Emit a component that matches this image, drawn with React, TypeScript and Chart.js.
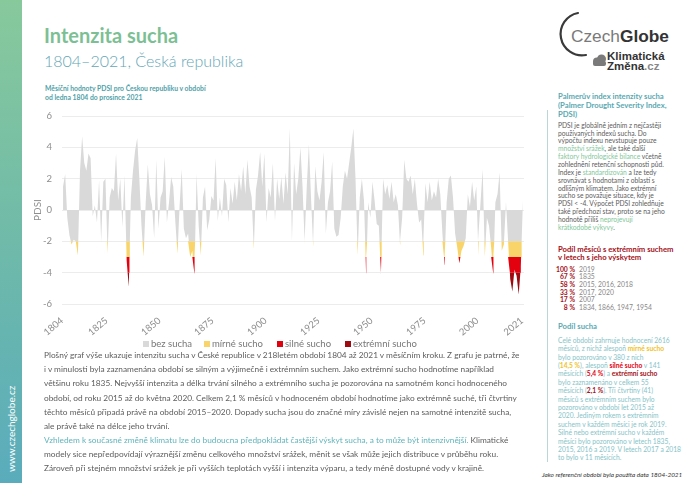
import React, { useEffect, useRef } from "react";
import { Chart, registerables } from "chart.js";

Chart.register(...registerables);

// Annual PDSI values (Czech Republic)
const pdsi1804to1849 = [
  1.5, 2.3, -0.5, -1.6, -2.2, -1.9, -2.0, -2.9, 2.5, 4.7,
  3.0, 2.5, 3.6, 3.3, -0.4, 0.3, -0.8, 1.9, -2.1, 1.8,
  2.0, -2.8, 0.8, 1.4, 1.2, 3.6, 0.6, 2.0, -1.1, 2.2,
  -3.2, -4.9, 0.8, 2.5, 3.8, 4.6, 2.0, -1.0, -3.0, 0.5,
  2.9, 1.0, 0.3, -1.8, 3.2, -1.2,
];
const pdsi1850to1899 = [
  0.8, 1.2, 3.4, -0.8, 0.5, 2.1, 1.5, -0.8, -2.8, 0.3,
  2.6, -1.2, -1.8, -1.5, -3.0, -2.6, -4.1, 2.3, -1.0, -2.9,
  0.8, 1.5, -1.3, -0.6, 0.9, 0.6, 3.3, -0.7, 0.8, -0.4,
  2.0, 1.6, -0.8, 1.4, 0.4, 1.8, 0.6, 2.3, 1.2, 2.8,
  1.0, 3.2, 1.5, 0.8, -2.5, 1.3, 2.2, 3.7, 1.5, 3.6,
];
const pdsi1900to1949 = [
  -0.8, 1.4, 0.8, 3.0, -0.7, 2.0, 0.7, 2.1, 0.4, 2.4,
  1.0, 5.2, -2.0, 3.0, 1.0, 2.0, 4.0, 1.5, -2.1, 1.5,
  4.2, 0.8, -2.3, 2.8, 1.2, 0.6, 1.8, 3.7, -1.5, 0.5,
  1.2, 3.1, -1.2, -1.7, -1.6, -0.5, 1.5, 2.5, 2.0, 3.0,
  4.0, 5.2, 2.0, -2.9, 0.8, 2.0, 0.6, -4.1, 0.5, -0.5,
];
const pdsi1950to1999 = [
  1.8, 0.6, -0.9, -1.0, -4.1, 2.0, 1.0, 1.6, 0.7, 1.8,
  0.5, 1.0, 0.3, -2.2, -0.5, 3.2, 2.0, 1.8, 2.2, 1.0,
  2.0, 0.4, -0.8, -0.6, -2.9, 1.7, 0.5, 1.8, 0.6, 1.2,
  0.8, 2.0, 1.0, -1.5, -3.5, 0.5, 2.0, 2.2, 0.8, -1.5,
  -2.4, -3.4, -2.6, -2.3, -1.8, 1.0, 0.2, 1.8, 0.6, 1.5,
];
const pdsi2000to2021 = [
  -2.9, 0.5, 2.6, -3.0, -0.5, -1.0, -2.4, -4.1, 0.5, 1.0,
  2.4, -2.6, -2.2, 0.5, -2.0, -4.4, -5.2, -3.8, -4.2, -5.4,
  -3.6, 0.6,
];

const startYear = 1804;
const endYear = 2022;
const xTickYears = [1804, 1825, 1850, 1875, 1900, 1925, 1950, 1975, 2000, 2021];
const legendLabels = ["bez sucha", "mírné sucho", "silné sucho", "extrémní sucho"];
const classColors = ["#d9d9d9", "#f8d46a", "#e3000f", "#9e0a10"];
// class bands: [upper bound, lower bound, fill baseline]
const classBands: [number, number, number][] = [
  [Infinity, -2, 0],
  [-2, -3, -2],
  [-3, -4, -3],
  [-4, -Infinity, -4],
];

const FONT = "Lato, 'Noto Sans', sans-serif";

// Outline of one drought class: the PDSI line clamped into the class band,
// with the exact threshold crossings of each line segment kept as vertices.
function classOutline(xs: number[], vs: number[], hi: number, lo: number) {
  const clamp = (v: number) => Math.min(hi, Math.max(lo, v));
  const out: { x: number; y: number }[] = [];
  for (let i = 0; i < vs.length; i++) {
    out.push({ x: xs[i], y: clamp(vs[i]) });
    if (i === vs.length - 1) break;
    const v0 = vs[i];
    const v1 = vs[i + 1];
    const cuts = [hi, lo]
      .filter((t) => isFinite(t) && (v0 - t) * (v1 - t) < 0)
      .map((t) => ({ x: xs[i] + ((t - v0) / (v1 - v0)) * (xs[i + 1] - xs[i]), y: t }))
      .sort((a, b) => a.x - b.x);
    out.push(...cuts);
  }
  return out;
}

function PdsiChart() {
  const ref = useRef<HTMLCanvasElement | null>(null);
  useEffect(() => {
    const values = [
      ...pdsi1804to1849,
      ...pdsi1850to1899,
      ...pdsi1900to1949,
      ...pdsi1950to1999,
      ...pdsi2000to2021,
    ];
    const xs = values.map((_, i) => startYear + i + 0.5);
    const datasets = classBands.map(([hi, lo, baseVal], k) => ({
      label: legendLabels[k],
      data: classOutline(xs, values, hi, lo),
      backgroundColor: classColors[k],
      borderColor: "rgba(0,0,0,0)",
      borderWidth: 0,
      pointRadius: 0,
      tension: 0,
      fill: k === 0 ? "origin" : { value: baseVal },
    }));
    const chart = new Chart(ref.current as HTMLCanvasElement, {
      type: "line",
      data: { datasets } as any,
      options: {
        animation: false,
        responsive: false,
        maintainAspectRatio: false,
        layout: { padding: { left: 0, right: 16, top: 16, bottom: 0 } },
        plugins: { legend: { display: false }, tooltip: { enabled: false } },
        scales: {
          x: {
            type: "linear",
            min: startYear,
            max: endYear,
            afterBuildTicks: (s: any) => {
              s.ticks = xTickYears.map((v) => ({ value: v }));
            },
            afterFit: (s: any) => {
              s.height = 46;
            },
            grid: { display: false },
            border: { display: false },
            ticks: {
              autoSkip: false,
              minRotation: 40,
              maxRotation: 40,
              padding: 3,
              color: "#8e8e8e",
              font: { family: FONT, size: 9.5 },
              callback: (v: any) => String(v),
            },
          },
          y: {
            min: -6,
            max: 6,
            afterFit: (s: any) => {
              s.width = 37;
            },
            grid: { color: "#ececec", drawTicks: false, lineWidth: 1 },
            border: { display: false },
            ticks: {
              stepSize: 2,
              padding: 10,
              color: "#8e8e8e",
              font: { family: FONT, size: 9.5 },
            },
            title: {
              display: true,
              text: "PDSI",
              color: "#8e8e8e",
              font: { family: FONT, size: 10 },
              padding: { top: 7, bottom: 0 },
            },
          },
        },
      } as any,
    });
    return () => chart.destroy();
  }, []);
  return (
    <canvas
      ref={ref}
      width={515}
      height={250}
      style={{ position: "absolute", left: 25, top: 100, width: 515, height: 250 }}
    />
  );
}

const abs = (left: number, top: number, extra: React.CSSProperties = {}): React.CSSProperties => ({
  position: "absolute",
  left,
  top,
  whiteSpace: "nowrap",
  ...extra,
});

const green = "#7fc79a";
const teal = "#5aa9b2";
const lightTeal = "#86c3c8";
const yellowTxt = "#f0c22a";
const redTxt = "#e3000f";
const darkRedTxt = "#a3111a";

export default function App() {
  useEffect(() => {
    document.body.style.margin = "0";
  }, []);
  const hl = (t: string) => <span style={{ color: green }}>{t}</span>;
  const b = (t: string, c: string) => <span style={{ color: c, fontWeight: 700 }}>{t}</span>;
  return (
    <div
      style={{
        position: "fixed",
        left: 0,
        top: 0,
        width: 682,
        height: 483,
        background: "#ffffff",
        overflow: "hidden",
        fontFamily: FONT,
      }}
    >
      {/* left strip */}
      <div
        style={{
          position: "absolute",
          left: 0,
          top: 0,
          width: 22,
          height: 483,
          background: "linear-gradient(180deg, #88c99c 0%, #6fbaa9 50%, #5aacbc 100%)",
        }}
      />
      <div
        style={abs(-28, 427, {
          width: 78,
          transform: "rotate(-90deg)",
          color: "#ffffff",
          fontSize: 10,
          lineHeight: "12px",
          textAlign: "center",
        })}
      >
        www.czechglobe.cz
      </div>

      {/* titles */}
      <div style={abs(44, 23, { fontSize: 20, lineHeight: "24px", fontWeight: 700, color: "#7dbf95" })}>
        Intenzita sucha
      </div>
      <div style={abs(44, 51, { fontSize: 16, lineHeight: "19px", fontWeight: 300, color: "#62a6b6" })}>
        1804–2021, Česká republika
      </div>
      <div style={abs(45, 83.5, { fontSize: 6.8, lineHeight: "9px", fontWeight: 700, color: "#4f9fa8" })}>
        <div>Měsíční hodnoty PDSI pro Českou republiku v období</div>
        <div>od ledna 1804 do prosince 2021</div>
      </div>

      {/* logo */}
      <svg width={682} height={80} style={{ position: "absolute", left: 0, top: 0 }}>
        <path d="M 578 13 A 21.3 21.3 0 1 0 586 55" fill="none" stroke="#3a3a3a" strokeWidth={2.2} strokeLinecap="round" />
        <g fill="#7a7a7a">
          <circle cx={597} cy={61.5} r={4} />
          <circle cx={601.5} cy={59} r={4.5} />
          <rect x={593} y={61} width={13} height={5} rx={2} />
        </g>
      </svg>
      <div style={abs(571, 26, { fontFamily: "'Liberation Sans', Arial, sans-serif", fontSize: 17.3, lineHeight: "20px" })}>
        <span style={{ color: "#7a7a7a" }}>Czech</span>
        <span style={{ color: "#333333", fontWeight: 700 }}>Globe</span>
      </div>
      <div style={abs(607, 50.5, { fontFamily: "'Liberation Sans', Arial, sans-serif", fontSize: 11.5, lineHeight: "10.5px", fontWeight: 700, color: "#333" })}>
        <div>Klimatická</div>
        <div>
          Změna<span style={{ color: "#888" }}>.cz</span>
        </div>
      </div>

      {/* chart */}
      <PdsiChart />

      {/* legend */}
      {legendLabels.map((t, i) => {
        const xs = [143, 204, 277, 345];
        return (
          <div key={t} style={abs(xs[i], 338, { fontSize: 9.5, lineHeight: "12px", color: "#777" })}>
            <span
              style={{
                display: "inline-block",
                width: 6,
                height: 6,
                background: classColors[i],
                marginRight: 2,
                verticalAlign: "0px",
              }}
            />
            {t}
          </div>
        );
      })}

      {/* body text */}
      <div style={abs(44, 348, { fontSize: 8.3, lineHeight: "14.2px", color: "#5c5c5c" })}>
        <div>Plošný graf výše ukazuje intenzitu sucha v České republice v 218letém období 1804 až 2021 v měsíčním kroku. Z grafu je patrné, že</div>
        <div>i v minulosti byla zaznamenána období se silným a výjimečně i extrémním suchem. Jako extrémní sucho hodnotíme například</div>
        <div>většinu roku 1835. Nejvyšší intenzita a délka trvání silného a extrémního sucha je pozorována na samotném konci hodnoceného</div>
        <div>období, od roku 2015 až do května 2020. Celkem 2,1 % měsíců v hodnoceném období hodnotíme jako extrémně suché, tři čtvrtiny</div>
        <div>těchto měsíců připadá právě na období 2015–2020. Dopady sucha jsou do značné míry závislé nejen na samotné intenzitě sucha,</div>
        <div>ale právě také na délce jeho trvání.</div>
      </div>
      <div style={abs(44, 433, { fontSize: 8.3, lineHeight: "14.2px", color: "#5c5c5c" })}>
        <div>
          <span style={{ color: "#5fb4bb" }}>
            Vzhledem k současné změně klimatu lze do budoucna předpokládat častější výskyt sucha, a to může být intenzivnější.
          </span>{" "}
          Klimatické
        </div>
        <div>modely sice nepředpovídají výraznější změnu celkového množství srážek, měnit se však může jejich distribuce v průběhu roku.</div>
        <div>Zároveň při stejném množství srážek je při vyšších teplotách vyšší i intenzita výparu, a tedy méně dostupné vody v krajině.</div>
      </div>

      {/* right panel */}
      <div style={{ position: "absolute", left: 547, top: 110, width: 1.2, height: 352, background: "#b9d6d9" }} />
      <div style={abs(558, 91.5, { fontSize: 7.7, lineHeight: "9px", fontWeight: 700, color: teal })}>
        <div>Palmerův index intenzity sucha</div>
        <div>(Palmer Drought Severity Index,</div>
        <div>PDSI)</div>
      </div>
      <div style={abs(558, 121.8, { fontSize: 6.7, lineHeight: "7.85px", color: "#5c5c5c" })}>
        <div>PDSI je globálně jedním z nejčastěji</div>
        <div>používaných indexů sucha. Do</div>
        <div>výpočtu indexu nevstupuje pouze</div>
        <div>{hl("množství srážek")}, ale také další</div>
        <div>{hl("faktory hydrologické bilance")} včetně</div>
        <div>zohlednění retenční schopnosti půd.</div>
        <div>Index je {hl("standardizován")} a lze tedy</div>
        <div>srovnávat s hodnotami z oblastí s</div>
        <div>odlišným klimatem. Jako extrémní</div>
        <div>sucho se považuje situace, kdy je</div>
        <div>PDSI &lt; -4. Výpočet PDSI zohledňuje</div>
        <div>také předchozí stav, proto se na jeho</div>
        <div>hodnotě příliš {hl("neprojevují")}</div>
        <div>{hl("krátkodobé výkyvy")}.</div>
      </div>
      <div style={abs(558, 244.8, { fontSize: 7.7, lineHeight: "8.3px", fontWeight: 700, color: darkRedTxt })}>
        <div>Podíl měsíců s extrémním suchem</div>
        <div>v letech s jeho výskytem</div>
      </div>
      {[
        ["100 %", "2019"],
        ["67 %", "1835"],
        ["58 %", "2015, 2016, 2018"],
        ["33 %", "2017, 2020"],
        ["17 %", "2007"],
        ["8 %", "1834, 1866, 1947, 1954"],
      ].map(([p, y], i) => (
        <div key={p} style={abs(545, 265.5 + i * 7.7, { fontSize: 6.8, lineHeight: "7.7px" })}>
          <span style={{ display: "inline-block", width: 30, textAlign: "right", fontWeight: 700, color: darkRedTxt }}>{p}</span>
          <span style={{ marginLeft: 4, color: "#888" }}>{y}</span>
        </div>
      ))}
      <div style={abs(558, 321.5, { fontSize: 7.7, lineHeight: "9px", fontWeight: 700, color: teal })}>Podíl sucha</div>
      <div style={abs(558, 335.8, { fontSize: 6.7, lineHeight: "8.4px", color: lightTeal })}>
        <div>Celé období zahrnuje hodnocení 2616</div>
        <div>měsíců, z nichž alespoň {b("mírné sucho", yellowTxt)}</div>
        <div>bylo pozorováno v 380 z nich</div>
        <div>({b("14,5 %", yellowTxt)}), alespoň {b("silné sucho", redTxt)} v 141</div>
        <div>měsících ({b("5,4 %", redTxt)}) a {b("extrémní sucho", darkRedTxt)}</div>
        <div>bylo zaznamenáno v celkem 55</div>
        <div>měsících ({b("2,1 %", darkRedTxt)}). Tři čtvrtiny (41)</div>
        <div>měsíců s extrémním suchem bylo</div>
        <div>pozorováno v období let 2015 až</div>
        <div>2020. Jediným rokem s extrémním</div>
        <div>suchem v každém měsíci je rok 2019.</div>
        <div>Silné nebo extrémní sucho v každém</div>
        <div>měsíci bylo pozorováno v letech 1835,</div>
        <div>2015, 2016 a 2019. V letech 2017 a 2018</div>
        <div>to bylo v 11 měsících.</div>
      </div>
      <div style={abs(542, 471, { fontSize: 6.4, lineHeight: "8px", fontStyle: "italic", color: "#333" })}>
        Jako referenční období byla použita data 1804-2021.
      </div>
    </div>
  );
}
